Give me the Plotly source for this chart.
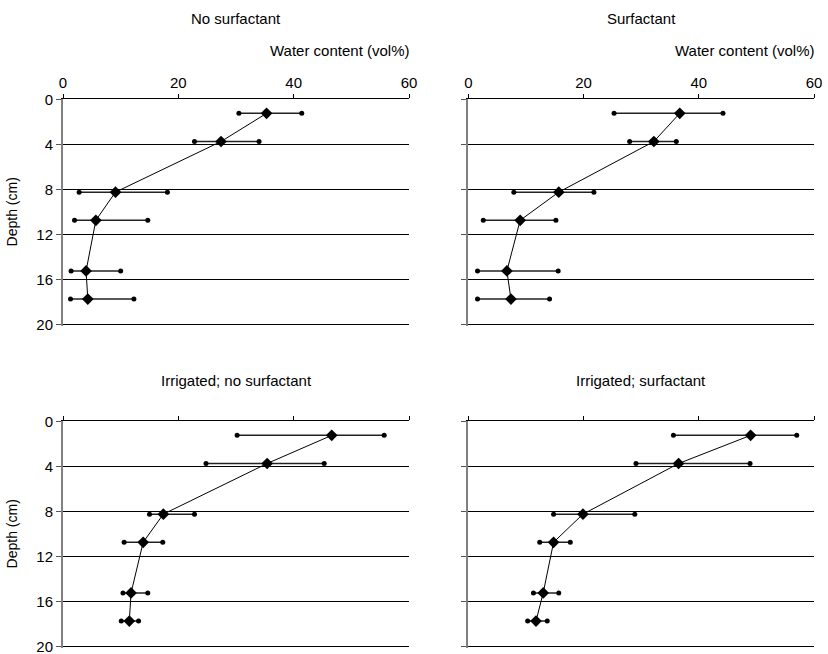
import plotly.graph_objects as go

# Depth of each sampling layer (cm)
depth = [1.25, 3.75, 8.25, 10.75, 15.25, 17.75]

# Panel titles
titles = ["No surfactant", "Surfactant", "Irrigated; no surfactant", "Irrigated; surfactant"]

# Mean water content (vol%) and error-bar ends per panel
mean_ns = [35.3, 27.4, 9.1, 5.7, 4.0, 4.3]
lo_ns = [30.5, 22.8, 2.8, 2.0, 1.4, 1.3]
hi_ns = [41.4, 34.0, 18.1, 14.7, 10.0, 12.3]

mean_s = [36.7, 32.2, 15.7, 9.0, 6.7, 7.4]
lo_s = [25.3, 28.0, 7.9, 2.6, 1.6, 1.6]
hi_s = [44.2, 36.1, 21.8, 15.2, 15.6, 14.1]

mean_ins = [46.6, 35.4, 17.4, 13.9, 11.8, 11.5]
lo_ins = [30.2, 24.8, 15.0, 10.6, 10.4, 10.1]
hi_ins = [55.7, 45.3, 22.8, 17.3, 14.7, 13.1]

mean_is = [49.0, 36.5, 19.9, 14.8, 13.0, 11.75]
lo_is = [35.6, 29.1, 14.8, 12.4, 11.3, 10.3]
hi_is = [57.0, 48.9, 28.9, 17.7, 15.7, 13.7]

x_ticks = [0, 20, 40, 60]
y_ticks = [0, 4, 8, 12, 16, 20]
x_max = 60
y_max = 20.1  # slightly past 20 so the 20 cm gridline is drawn

panels = [
    (mean_ns, lo_ns, hi_ns),
    (mean_s, lo_s, hi_s),
    (mean_ins, lo_ins, hi_ins),
    (mean_is, lo_is, hi_is),
]

FONT = "Liberation Sans, Arial, sans-serif"
W, H = 828, 654
xdoms = [[63 / W, 409 / W], [468.3 / W, 814 / W]]
ydoms = [[1 - 325.5 / H, 1 - 99.3 / H], [1 - 647.5 / H, 1 - 421.3 / H]]

fig = go.Figure()

for i, (m, lo, hi) in enumerate(panels):
    r, c = divmod(i, 2)
    n = i + 1
    xa = "x" if n == 1 else f"x{n}"
    ya = "y" if n == 1 else f"y{n}"
    # error bar segments
    ex, ey = [], []
    for d, a, b in zip(depth, lo, hi):
        ex += [a, b, None]
        ey += [d, d, None]
    fig.add_trace(go.Scatter(x=ex, y=ey, mode="lines+markers", xaxis=xa, yaxis=ya,
                             line=dict(color="#222222", width=1.5),
                             marker=dict(symbol="circle", size=5, color="black"),
                             showlegend=False, hoverinfo="skip"))
    fig.add_trace(go.Scatter(x=m, y=depth, mode="lines+markers", xaxis=xa, yaxis=ya,
                             line=dict(color="black", width=1),
                             marker=dict(symbol="diamond", size=9, color="black"),
                             showlegend=False))
    xk = "xaxis" if n == 1 else f"xaxis{n}"
    yk = "yaxis" if n == 1 else f"yaxis{n}"
    fig.layout[xk] = dict(domain=xdoms[c], range=[0, x_max], side="top", anchor=ya,
                          tickvals=x_ticks, showticklabels=(r == 0),
                          showline=True, linecolor="black", linewidth=1,
                          ticks="outside", ticklen=4, tickcolor="black",
                          showgrid=False, zeroline=False, automargin=False,
                          tickfont=dict(family=FONT, size=15, color="black"))
    fig.layout[yk] = dict(domain=ydoms[r], range=[y_max, 0], anchor=xa,
                          tickvals=y_ticks, showticklabels=(c == 0),
                          showline=True, linecolor="#808080", linewidth=2,
                          ticks="outside", ticklen=5, tickcolor="#555555",
                          showgrid=True, gridcolor="black", gridwidth=1,
                          zeroline=False, automargin=False,
                          ticklabeloverflow="allow",
                          tickfont=dict(family=FONT, size=15, color="black"))
    # panel title
    fig.add_annotation(text=titles[i], xref=f"{xa} domain", yref="paper",
                       x=0.5, y=1 - (18 if r == 0 else 381) / H,
                       showarrow=False, xanchor="center", yanchor="middle",
                       font=dict(family=FONT, size=15, color="black"))
    if r == 0:
        fig.add_annotation(text="Water content (vol%)", xref=f"{xa} domain", yref="paper",
                           x=1.01, y=1 - 50 / H, showarrow=False,
                           xanchor="right", yanchor="middle",
                           font=dict(family=FONT, size=15, color="black"))
    if c == 0:
        fig.add_annotation(text="Depth (cm)", xref="paper", yref=f"{ya} domain",
                           x=12 / W, y=0.5, textangle=-90, showarrow=False,
                           xanchor="center", yanchor="middle",
                           font=dict(family=FONT, size=14, color="black"))

fig.update_layout(width=W, height=H, margin=dict(l=0, r=0, t=0, b=0),
                  paper_bgcolor="white", plot_bgcolor="white")

fig.write_html("out.html")
